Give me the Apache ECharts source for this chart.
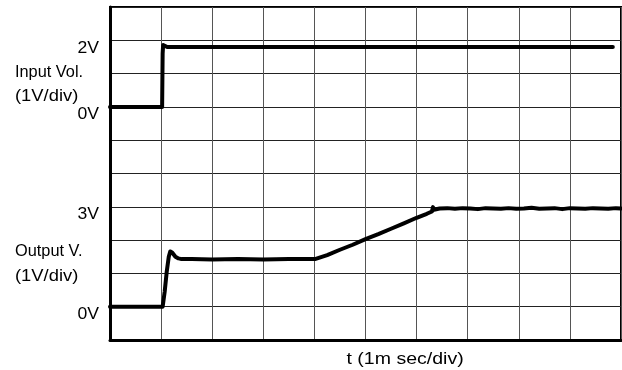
<!DOCTYPE html>
<html>
<head>
<meta charset="utf-8">
<script src="https://cdn.jsdelivr.net/npm/echarts@6/dist/echarts.min.js"></script>
<style>
html,body{margin:0;padding:0;background:#fff;}
#c{width:622px;height:370px;}
</style>
</head>
<body>
<div id="c"></div>
<script>
// time in divisions (1 ms/div), voltages in V
var inputTime = [0, 1.02, 1.03, 1.04, 1.07, 1.12, 1.30, 9.84];
var inputVolt = [0, 0, 1.60, 1.86, 1.84, 1.80, 1.80, 1.80];

var outputTime = [0, 1.03, 1.07, 1.11, 1.15, 1.18, 1.22, 1.28, 1.34, 1.40, 1.60, 2.00, 2.50, 3.00, 3.50, 4.01,
  4.25, 4.50, 4.75, 5.00, 5.25, 5.50, 5.75, 6.00, 6.20, 6.30, 6.32, 6.34, 6.45,
  6.60, 6.75, 6.90, 7.05, 7.20, 7.35, 7.50, 7.65, 7.80, 7.95, 8.10, 8.25, 8.40, 8.55, 8.70, 8.85, 9.00, 9.15, 9.30, 9.45, 9.60, 9.75, 9.90, 10.0];
var outputVolt = [0, 0, 0.45, 1.05, 1.50, 1.66, 1.62, 1.50, 1.45, 1.43, 1.43, 1.42, 1.43, 1.42, 1.43, 1.43,
  1.55, 1.71, 1.86, 2.03, 2.18, 2.34, 2.50, 2.67, 2.79, 2.86, 2.99, 2.91, 2.95,
  2.96, 2.94, 2.96, 2.95, 2.93, 2.96, 2.95, 2.94, 2.96, 2.94, 2.95, 2.97, 2.94, 2.95, 2.96, 2.93, 2.96, 2.95, 2.94, 2.96, 2.95, 2.94, 2.96, 2.95];

// tick labels: [value, text]
var inputTicks = [[2, '2V'], [0, '0V']];
var outputTicks = [[3, '3V'], [0, '0V']];
var inputTitle = ['Input Vol.', '(1V/div)'];
var outputTitle = ['Output V.', '(1V/div)'];
var xTitle = 't (1m sec/div)';

function pairs(t, v) { return t.map(function (x, i) { return [x, v[i]]; }); }

var chart = echarts.init(document.getElementById('c'), null, {renderer: 'canvas'});
var FONT = '"Liberation Sans", Arial, sans-serif';

chart.setOption({
  animation: false,
  backgroundColor: '#fff',
  grid: {left: 110, right: 1, top: 7, bottom: 30, show: true, borderColor: '#000', borderWidth: 2},
  xAxis: {
    type: 'value', min: 0, max: 10, interval: 1,
    axisLabel: {show: false}, axisTick: {show: false},
    axisLine: {show: true, onZero: false, lineStyle: {color: '#000', width: 3}},
    splitLine: {show: true, lineStyle: {color: '#555', width: 1}}
  },
  yAxis: [{
    type: 'value', min: -7, max: 3, interval: 1,
    axisLabel: {show: false}, axisTick: {show: false},
    axisLine: {show: true, onZero: false, lineStyle: {color: '#000', width: 3}},
    splitLine: {show: true, lineStyle: {color: '#222', width: 1}}
  }, {
    type: 'value', min: -1, max: 9, interval: 1, position: 'left',
    axisLabel: {show: false}, axisTick: {show: false},
    axisLine: {show: false}, splitLine: {show: false}
  }],
  series: [{
    type: 'line', yAxisIndex: 0, data: pairs(inputTime, inputVolt), showSymbol: false, symbol: 'none',
    lineStyle: {color: '#000', width: 4, cap: 'round', join: 'round'}
  }, {
    type: 'line', yAxisIndex: 1, data: pairs(outputTime, outputVolt), showSymbol: false, symbol: 'none',
    lineStyle: {color: '#000', width: 4, cap: 'round', join: 'round'}
  }]
});

var g = [];
function txt(x, y, s, size, align, sx) {
  g.push({type: 'text', x: x, y: y, scaleX: sx || 1, originX: 0, originY: 0, z: 10,
    style: {text: s, fill: '#000', font: size + 'px ' + FONT, align: align, verticalAlign: 'middle'}});
}
inputTicks.forEach(function (t) {
  var p = chart.convertToPixel({yAxisIndex: 0}, t[0]);
  txt(99, p + 8, t[1], 16, 'right', 1.1);
});
outputTicks.forEach(function (t) {
  var p = chart.convertToPixel({yAxisIndex: 1}, t[0]);
  txt(99, p + 7.5, t[1], 16, 'right', 1.1);
});
var y2 = chart.convertToPixel({yAxisIndex: 0}, 2);
txt(15, y2 + 32, inputTitle[0], 16, 'left', 1.02);
txt(15, y2 + 56, inputTitle[1], 17, 'left', 1.08);
var y3 = chart.convertToPixel({yAxisIndex: 1}, 3);
txt(15, y3 + 45, outputTitle[0], 16, 'left', 1.02);
txt(15, y3 + 70, outputTitle[1], 17, 'left', 1.08);
var x5 = chart.convertToPixel({xAxisIndex: 0}, 5);
txt(x5 - 19, 360, xTitle, 16, 'left', 1.22);
chart.setOption({graphic: g});
</script>
</body>
</html>
